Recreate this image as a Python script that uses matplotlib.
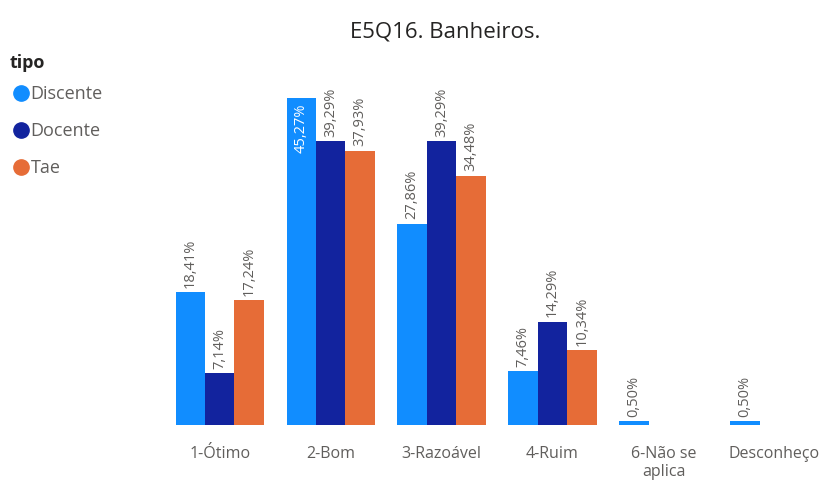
import numpy as np
import matplotlib
matplotlib.use("Agg")
import matplotlib.pyplot as plt
from matplotlib.lines import Line2D

categories = ["1-Ótimo", "2-Bom", "3-Razoável", "4-Ruim", "6-Não se\naplica", "Desconheço"]
series = ["Discente", "Docente", "Tae"]
discente = [18.41, 45.27, 27.86, 7.46, 0.50, 0.50]
docente = [7.14, 39.29, 39.29, 14.29, None, None]
tae = [17.24, 37.93, 34.48, 10.34, None, None]
colors = ["#118DFF", "#12239E", "#E66C37"]

label_color = "#605E5C"
plt.rcParams['font.family'] = ['Open Sans', 'DejaVu Sans']

fig = plt.figure(figsize=(8.25, 4.86), dpi=100)
ax = fig.add_axes([0.199, 0.1255, 0.807, 0.75])

x = np.arange(len(categories))
w = 0.265
for i, (name, vals) in enumerate(zip(series, [discente, docente, tae])):
    pos = x + (i - 1) * w
    for xp, v in zip(pos, vals):
        if v is None:
            continue
        ax.bar(xp, v, width=w, color=colors[i], linewidth=0)
        txt = f"{v:.2f}".replace(".", ",") + "%"
        if v > 42:
            ax.text(xp, v - 0.8, txt, rotation=90, ha="center", va="top",
                    color="white", fontsize=10.5)
        else:
            ax.text(xp, v + 0.6, txt, rotation=90, ha="center", va="bottom",
                    color=label_color, fontsize=10.5)

ax.set_xlim(-0.5, 5.5)
ax.set_ylim(0, 50.4)
ax.set_xticks(x)
ax.set_xticklabels(categories, color=label_color, fontsize=11.5)
ax.tick_params(axis="x", length=0, pad=15)
ax.set_yticks([])
for s in ax.spines.values():
    s.set_visible(False)

fig.text(0.54, 0.935, "E5Q16. Banheiros.", ha="center", va="center",
         fontsize=16, color="#252423")

# legend title drawn separately so the gap matches
fig.text(0.012, 1 - 63 / 486, "tipo", ha="left", va="center",
         fontsize=13, fontweight="bold", color="#252423")
handles = [Line2D([], [], marker="o", linestyle="", markersize=11,
                  markerfacecolor=c, markeredgecolor=c) for c in colors]
leg = fig.legend(handles, series, loc="upper left", bbox_to_anchor=(0.0, 0.847),
                 frameon=False, fontsize=13, labelspacing=1.05, handletextpad=0.0,
                 handlelength=1.1, borderaxespad=0.2)
for t in leg.get_texts():
    t.set_color(label_color)

fig.savefig("out.png", dpi=100)
